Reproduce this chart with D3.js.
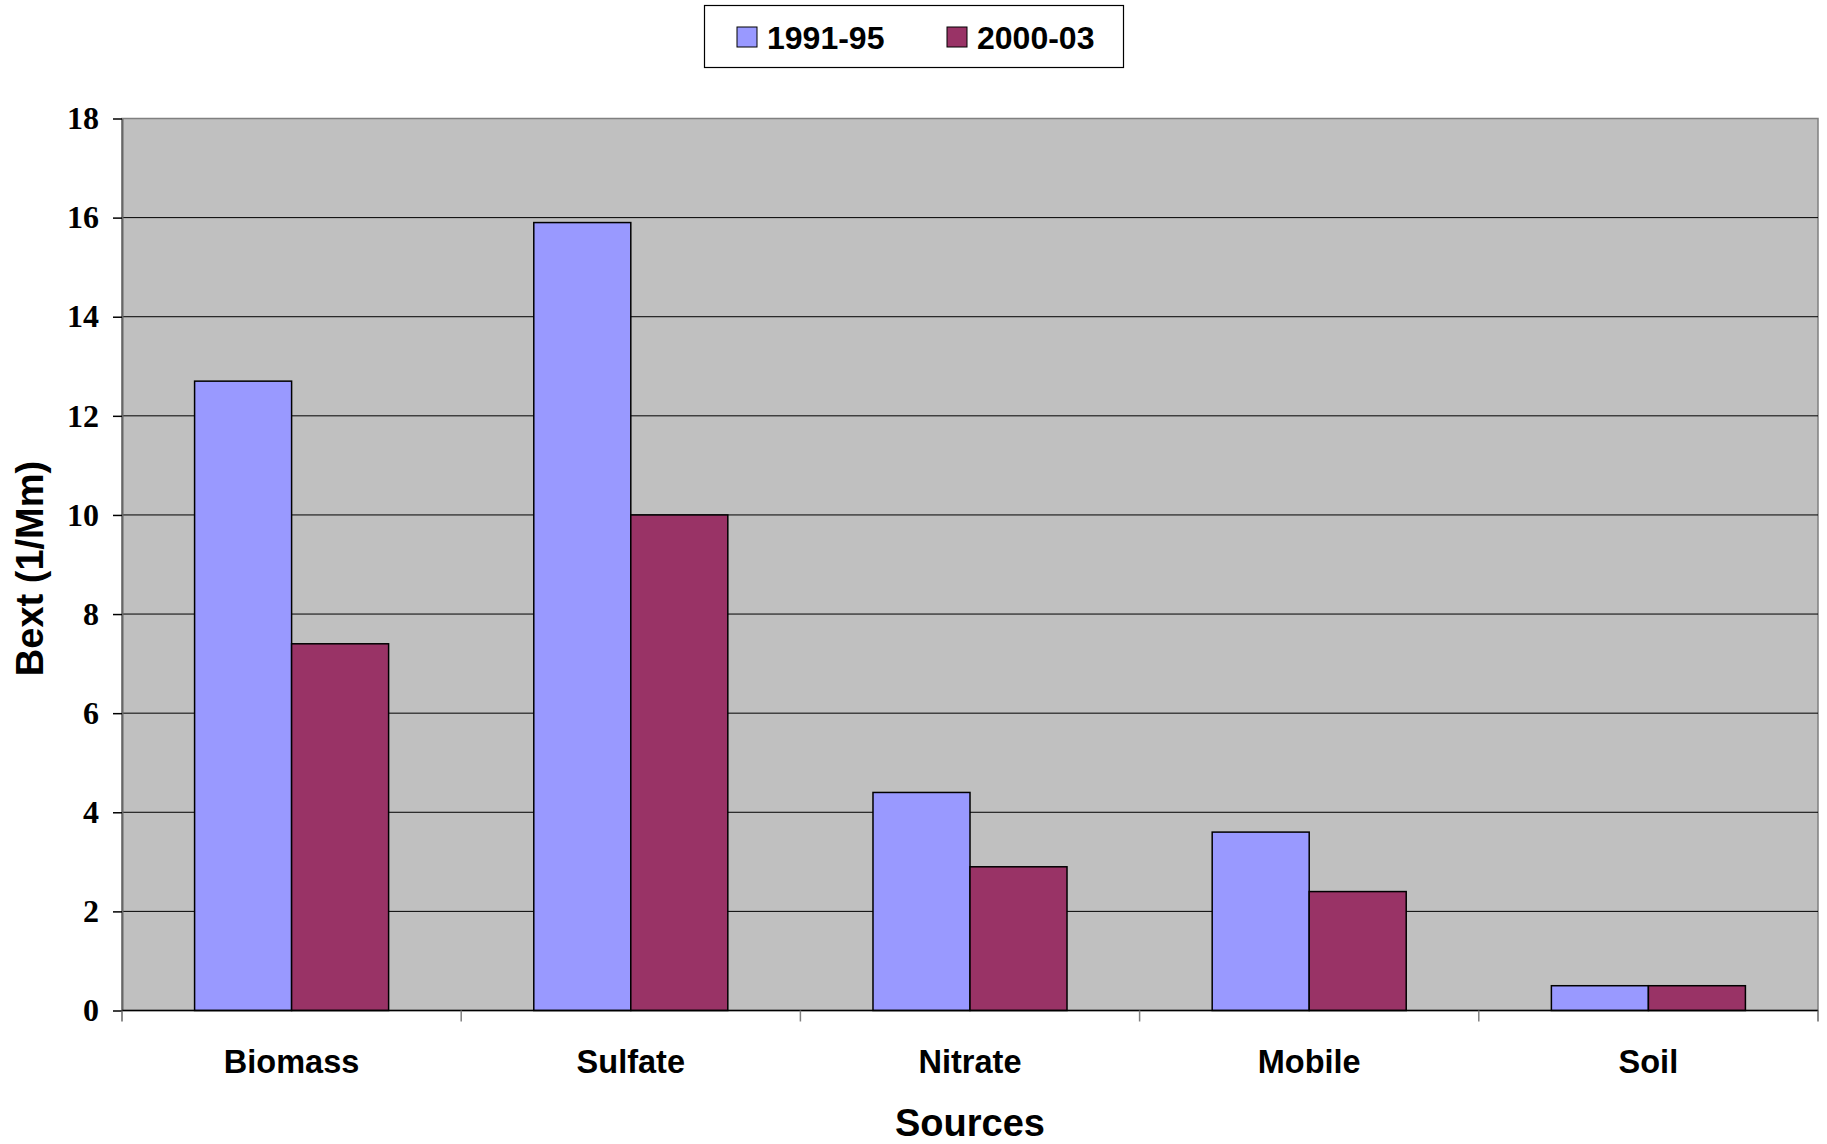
<!DOCTYPE html>
<html>
<head>
<meta charset="utf-8">
<script src="https://cdn.jsdelivr.net/npm/d3@7"></script>
<style>
  html, body { margin: 0; padding: 0; background: #fff; }
  svg { display: block; }
</style>
</head>
<body>
<svg id="chart" width="1827" height="1144"></svg>
<script>
// Light extinction by source, two periods
const categories = ["Biomass", "Sulfate", "Nitrate", "Mobile", "Soil"];
const seriesNames = ["1991-95", "2000-03"];
const values1991 = [12.7, 15.9, 4.4, 3.6, 0.5];
const values2000 = [7.4, 10.0, 2.9, 2.4, 0.5];
const yTicks = [0, 2, 4, 6, 8, 10, 12, 14, 16, 18];
const colors = ["#9999FF", "#993366"];

const seriesValues = [values1991, values2000];

const svg = d3.select("#chart");
const plot = { left: 122, right: 1818, top: 118.5, bottom: 1010.5 };

const x0 = d3.scaleBand()
  .domain(categories)
  .range([plot.left, plot.right])
  .paddingInner(0.428)
  .paddingOuter(0.214);

const x1 = d3.scaleBand()
  .domain(seriesNames)
  .range([0, x0.bandwidth()]);

const y = d3.scaleLinear()
  .domain([0, 18])
  .range([plot.bottom, plot.top]);

// plot background
svg.append("rect")
  .attr("x", plot.left).attr("y", plot.top)
  .attr("width", plot.right - plot.left)
  .attr("height", plot.bottom - plot.top)
  .attr("fill", "#C0C0C0")
  .attr("stroke", "#808080")
  .attr("stroke-width", 1.5);

// horizontal gridlines
svg.append("g")
  .selectAll("line")
  .data(yTicks.filter(t => t > 0 && t < 18))
  .join("line")
  .attr("x1", plot.left).attr("x2", plot.right)
  .attr("y1", d => y(d)).attr("y2", d => y(d))
  .attr("stroke", "#000")
  .attr("stroke-width", 1);

// bars
const groups = svg.append("g")
  .selectAll("g")
  .data(categories)
  .join("g")
  .attr("transform", d => `translate(${x0(d)},0)`);

groups.selectAll("rect")
  .data((d, i) => seriesNames.map((s, j) => ({ s, v: seriesValues[j][i], c: colors[j] })))
  .join("rect")
  .attr("x", d => x1(d.s))
  .attr("y", d => y(d.v))
  .attr("width", x1.bandwidth())
  .attr("height", d => y(0) - y(d.v))
  .attr("fill", d => d.c)
  .attr("stroke", "#000")
  .attr("stroke-width", 1.5);

// y axis
const yAxis = svg.append("g")
  .attr("transform", `translate(${plot.left},0)`)
  .call(d3.axisLeft(y).tickValues(yTicks).tickSize(9).tickPadding(14).tickSizeOuter(0));
yAxis.select(".domain").attr("stroke", "#666").attr("stroke-width", 2);
yAxis.selectAll(".tick line").attr("stroke", "#000").attr("stroke-width", 1.5);
yAxis.selectAll(".tick text")
  .attr("font-family", "'Liberation Serif', 'Times New Roman', serif")
  .attr("font-weight", "bold")
  .attr("font-size", 32)
  .attr("fill", "#000");

// x axis line and category boundary ticks
svg.append("line")
  .attr("x1", plot.left).attr("x2", plot.right)
  .attr("y1", y(0)).attr("y2", y(0))
  .attr("stroke", "#000").attr("stroke-width", 1.5);

const boundaries = d3.range(categories.length + 1).map(i => plot.left + i * x0.step());
svg.append("g")
  .selectAll("line")
  .data(boundaries)
  .join("line")
  .attr("x1", d => d).attr("x2", d => d)
  .attr("y1", y(0)).attr("y2", y(0) + 11)
  .attr("stroke", (d, i) => (i === 0 || i === categories.length) ? "#666" : "#808080")
  .attr("stroke-width", 1.5);

// category labels
svg.append("g")
  .selectAll("text")
  .data(categories)
  .join("text")
  .attr("x", d => x0(d) + x0.bandwidth() / 2)
  .attr("y", 1073)
  .attr("text-anchor", "middle")
  .attr("font-family", "'Liberation Sans', Arial, sans-serif")
  .attr("font-weight", "bold")
  .attr("font-size", 32.5)
  .text(d => d);

// axis titles
svg.append("text")
  .attr("x", (plot.left + plot.right) / 2)
  .attr("y", 1136)
  .attr("text-anchor", "middle")
  .attr("font-family", "'Liberation Sans', Arial, sans-serif")
  .attr("font-weight", "bold")
  .attr("font-size", 38)
  .text("Sources");

svg.append("text")
  .attr("transform", `translate(43,${(plot.top + plot.bottom) / 2 + 4}) rotate(-90)`)
  .attr("text-anchor", "middle")
  .attr("font-family", "'Liberation Sans', Arial, sans-serif")
  .attr("font-weight", "bold")
  .attr("font-size", 38)
  .text("Bext (1/Mm)");

// legend
const legend = svg.append("g");
legend.append("rect")
  .attr("x", 704.5).attr("y", 5.5)
  .attr("width", 419).attr("height", 62)
  .attr("fill", "#fff")
  .attr("stroke", "#000")
  .attr("stroke-width", 1.2);

const legendX = [737, 947];
const items = legend.selectAll("g")
  .data(seriesNames)
  .join("g")
  .attr("transform", (d, i) => `translate(${legendX[i]},0)`);
items.append("rect")
  .attr("x", 0).attr("y", 27)
  .attr("width", 20).attr("height", 20)
  .attr("fill", (d, i) => colors[i])
  .attr("stroke", "#000")
  .attr("stroke-width", 1);
items.append("text")
  .attr("x", 30).attr("y", 48.5)
  .attr("font-family", "'Liberation Sans', Arial, sans-serif")
  .attr("font-weight", "bold")
  .attr("font-size", 32)
  .text(d => d);
</script>
</body>
</html>
